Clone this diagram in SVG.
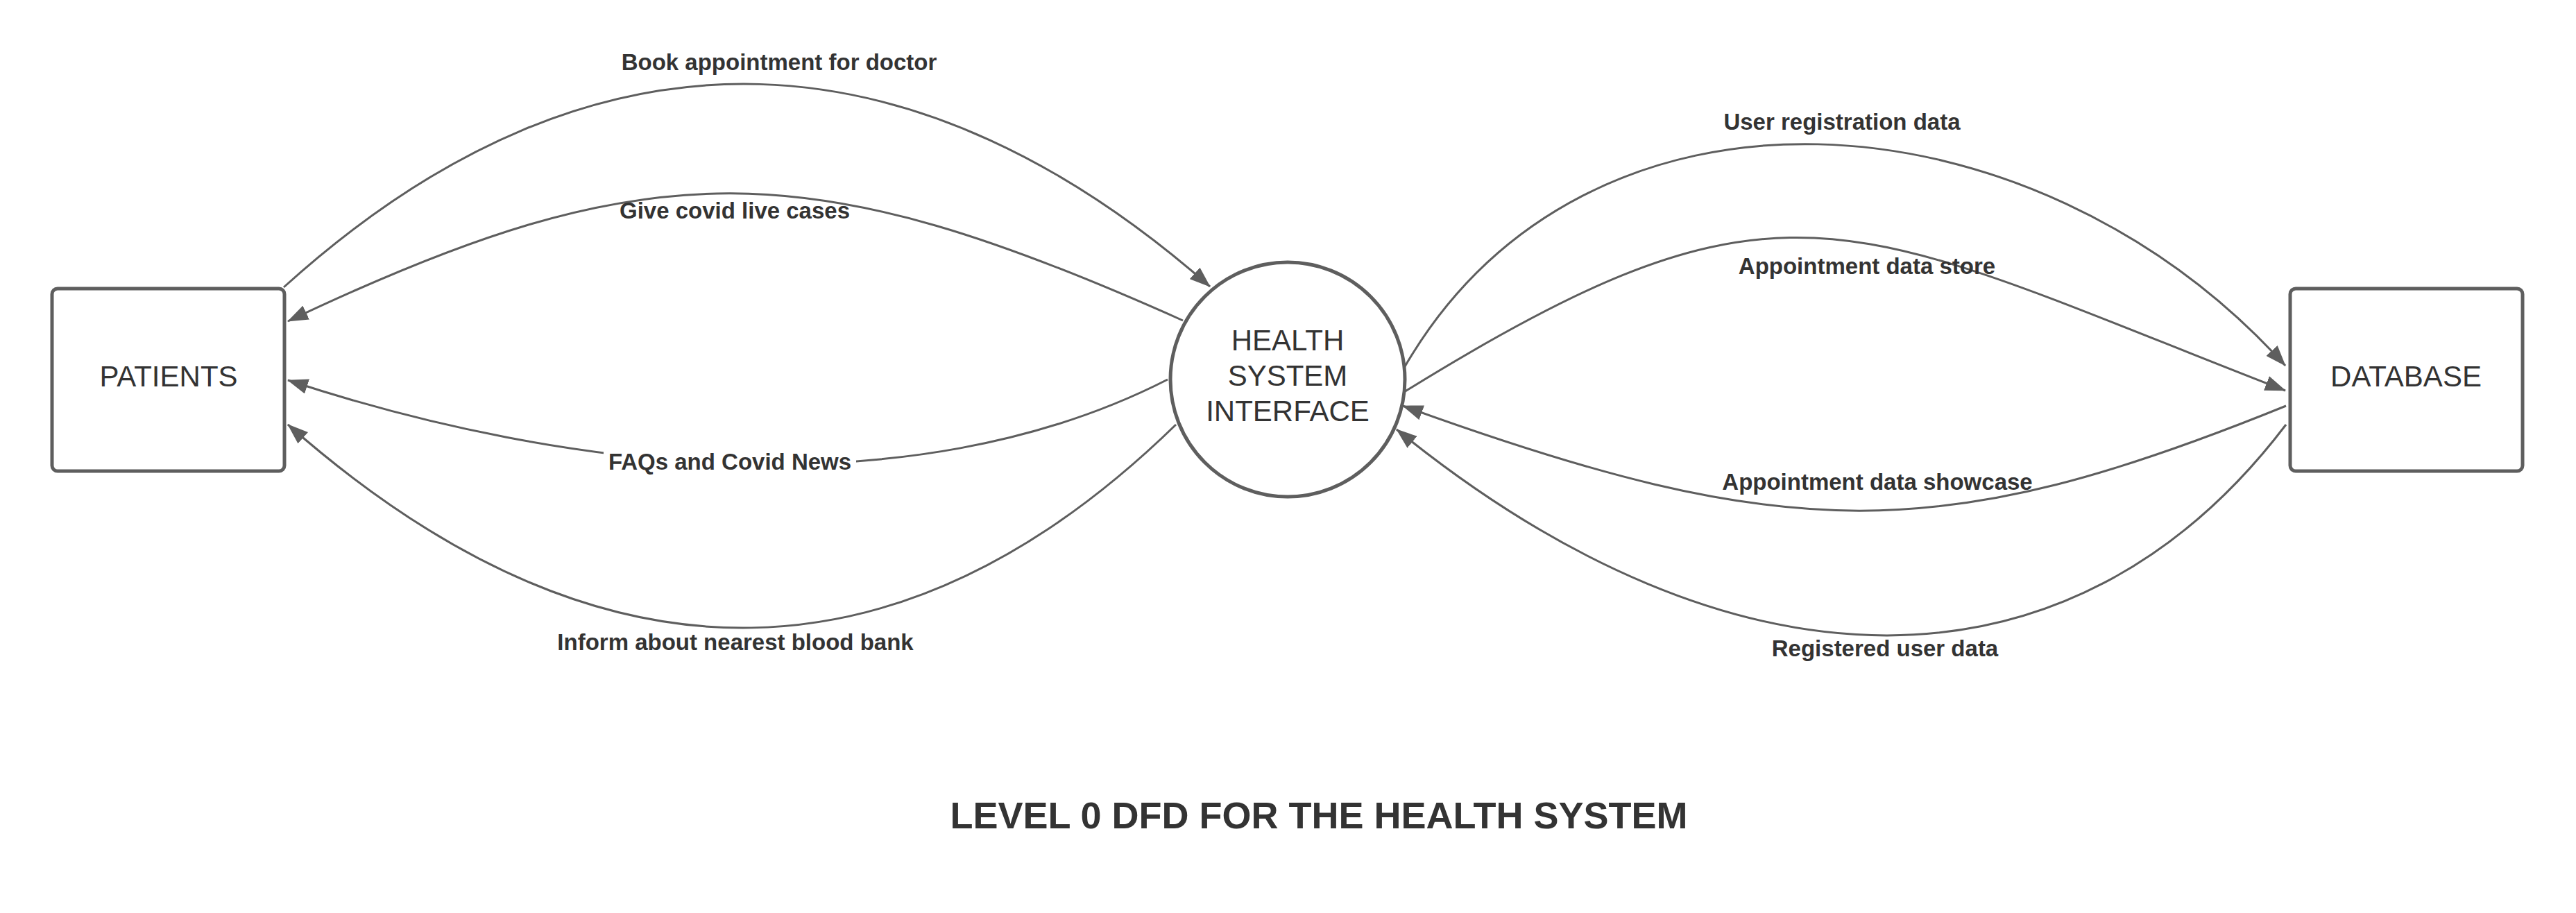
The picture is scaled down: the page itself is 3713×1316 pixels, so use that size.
<svg xmlns="http://www.w3.org/2000/svg" width="3713" height="1316" viewBox="0 0 3713 1316">
<style>
.node{fill:#ffffff;stroke:#5e5e5e;stroke-width:5}
.ntext{font-family:"Liberation Sans",Arial,sans-serif;font-size:42px;fill:#333333;text-anchor:middle}
.flow{fill:none;stroke:#5e5e5e;stroke-width:3;marker-end:url(#arrow)}
.label{font-family:"Liberation Sans",Arial,sans-serif;font-size:33px;font-weight:bold;fill:#333333;text-anchor:middle}
.title{font-family:"Liberation Sans",Arial,sans-serif;font-size:54px;font-weight:bold;fill:#333333;text-anchor:middle}
</style>
<defs>
<marker id="arrow" markerUnits="userSpaceOnUse" markerWidth="30" markerHeight="22" refX="29" refY="11" orient="auto" viewBox="0 0 30 22">
<path d="M0,0 L30,11 L0,22 z" fill="#5e5e5e"/>
</marker>
</defs>
<rect width="3713" height="1316" fill="#ffffff"/>
<g id="connectors">
<path id="c-book" class="flow" d="M409,414 C870,-3 1332,51 1744,413"/>
<path id="c-covid" class="flow" d="M1705,462 C1165,220 937,215 415,463"/>
<path id="c-faq" class="flow" d="M1683,547 C1311,737 816,680 415,548"/>
<path id="c-blood" class="flow" d="M1695,612 C1309,988 875,1017 415,612"/>
<path id="c-userreg" class="flow" d="M2024,530 C2285,78 2929,124 3294,527"/>
<path id="c-apstore" class="flow" d="M2024,565 C2577,222 2664,319 3294,563"/>
<path id="c-apshow" class="flow" d="M3295,585 C2797,787 2577,786 2022,585"/>
<path id="c-reguser" class="flow" d="M3295,612 C2986,1019 2498,1013 2013,619"/>
</g>
<g id="labels">
<text class="label" x="1123" y="101">Book appointment for doctor</text>
<text class="label" x="1059" y="315">Give covid live cases</text>
<rect x="870" y="648" width="364" height="40" fill="#ffffff"/>
<text class="label" x="1052" y="677">FAQs and Covid News</text>
<text class="label" x="1060" y="937">Inform about nearest blood bank</text>
<text class="label" x="2655" y="187">User registration data</text>
<text class="label" x="2691" y="395">Appointment data store</text>
<text class="label" x="2706" y="706">Appointment data showcase</text>
<text class="label" x="2717" y="946">Registered user data</text>
</g>
<g id="patients">
<rect class="node" x="75" y="416" width="335" height="263" rx="8" ry="8"/>
<text class="ntext" x="243" y="557">PATIENTS</text>
</g>
<g id="health-system">
<circle class="node" cx="1856" cy="547" r="169"/>
<text class="ntext" x="1856" y="505">HEALTH</text>
<text class="ntext" x="1856" y="556">SYSTEM</text>
<text class="ntext" x="1856" y="607">INTERFACE</text>
</g>
<g id="database">
<rect class="node" x="3301" y="416" width="335" height="263" rx="8" ry="8"/>
<text class="ntext" x="3468" y="557">DATABASE</text>
</g>
<g id="title">
<text class="title" x="1901" y="1194">LEVEL 0 DFD FOR THE HEALTH SYSTEM</text>
</g>
</svg>
